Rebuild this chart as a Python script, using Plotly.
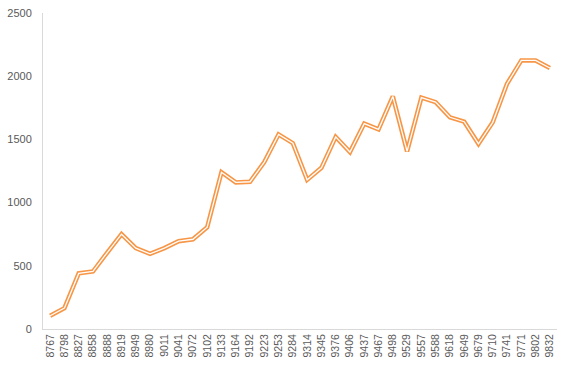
import plotly.graph_objects as go

categories = ["8767","8798","8827","8858","8888","8919","8949","8980","9011","9041",
              "9072","9102","9133","9164","9192","9223","9253","9284","9314","9345",
              "9376","9406","9437","9467","9498","9529","9557","9588","9618","9649",
              "9679","9710","9741","9771","9802","9832"]
values = [105, 165, 440, 455, 605, 750, 640, 595, 640, 695,
          710, 805, 1240, 1160, 1165, 1320, 1540, 1470, 1180, 1275,
          1520, 1400, 1625, 1580, 1840, 1405, 1830, 1795, 1675, 1640,
          1465, 1635, 1940, 2125, 2125, 2065]
y_ticks = [0, 500, 1000, 1500, 2000, 2500]

fig = go.Figure()
fig.add_trace(go.Scatter(x=categories, y=values, mode="lines",
                         line=dict(color="#F79646", width=4.5), hoverinfo="skip"))
fig.add_trace(go.Scatter(x=categories, y=values, mode="lines",
                         line=dict(color="#FFFFFF", width=1.3)))

fig.update_layout(
    width=569, height=367,
    margin=dict(l=43, r=12, t=13, b=38, autoexpand=False),
    paper_bgcolor="white", plot_bgcolor="white",
    showlegend=False,
    font=dict(family="Liberation Sans, Arial, sans-serif", size=11, color="#595959"),
)
fig.update_xaxes(type="category", tickangle=-90, showgrid=False, automargin=False,
                 showline=True, linecolor="#D9D9D9", linewidth=1,
                 ticks="", tickfont=dict(size=10.5, color="#595959"),
                 range=[-0.5, len(categories) - 0.5])
fig.update_yaxes(range=[0, 2500], tickvals=y_ticks, showgrid=False, automargin=False,
                 showline=True, linecolor="#D9D9D9", linewidth=1,
                 zeroline=False, ticks="", ticklabelstandoff=8,
                 ticklabeloverflow="allow",
                 tickfont=dict(size=11, color="#595959"))

fig.write_html("out.html", config={"displayModeBar": False},
               post_script="document.body.style.margin='0px';")
